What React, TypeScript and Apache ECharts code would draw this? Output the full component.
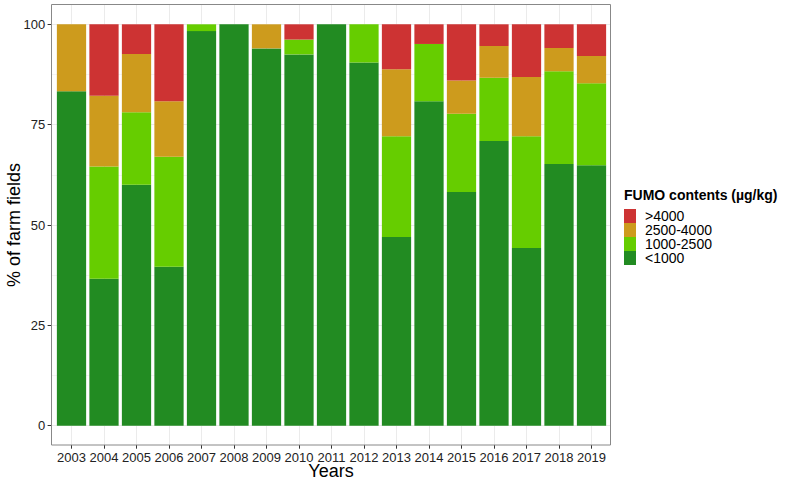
import React, { useEffect, useRef } from "react";
import * as echarts from "echarts";

const years = ["2003", "2004", "2005", "2006", "2007", "2008", "2009", "2010", "2011", "2012", "2013", "2014", "2015", "2016", "2017", "2018", "2019"];
const below1000 = [83.3, 36.6, 60.0, 39.6, 98.3, 100, 94.0, 92.5, 100, 90.5, 47.0, 80.8, 58.2, 70.9, 44.3, 65.2, 64.9];
const from1000to2500 = [0, 28.0, 18.1, 27.4, 1.7, 0, 0, 3.7, 0, 9.5, 25.1, 14.3, 19.5, 15.8, 27.8, 23.1, 20.4];
const from2500to4000 = [16.7, 17.6, 14.5, 13.8, 0, 0, 6.0, 0, 0, 0, 16.7, 0, 8.3, 7.9, 14.8, 5.8, 6.8];
const above4000 = [0, 17.8, 7.4, 19.2, 0, 0, 0, 3.8, 0, 0, 11.2, 4.9, 14.0, 5.4, 13.1, 5.9, 7.9];
const seriesNames = ["<1000", "1000-2500", "2500-4000", ">4000"];
const legendOrder = [">4000", "2500-4000", "1000-2500", "<1000"];
const yTicks = [0, 25, 50, 75, 100];

const FONT = "'Liberation Sans', Arial, Helvetica, sans-serif";
const colors = ["#228B22", "#66CD00", "#CD9B1D", "#CD3333"];

export default function App() {
  const ref = useRef<HTMLDivElement>(null);
  useEffect(() => {
    if (!ref.current) return;
    const chart = echarts.init(ref.current, undefined, { renderer: "svg" });
    const values = [below1000, from1000to2500, from2500to4000, above4000];
    const grid = "#ebebeb";
    chart.setOption({
      animation: false,
      backgroundColor: "#ffffff",
      textStyle: { fontFamily: FONT },
      title: {
        text: "FUMO contents (µg/kg)",
        left: 624,
        top: 188,
        padding: 0,
        textStyle: { fontSize: 14, fontWeight: "bold", color: "#000", fontFamily: FONT },
      },
      legend: {
        orient: "vertical",
        left: 624,
        top: 209,
        padding: 0,
        itemWidth: 12,
        itemHeight: 14,
        itemGap: 0,
        icon: "rect",
        selectedMode: false,
        data: legendOrder,
        textStyle: { fontSize: 14, lineHeight: 14, color: "#000", fontFamily: FONT, padding: [0, 0, 0, 4] },
      },
      grid: [
        { left: 55.25, top: 24.3, width: 552.5, height: 401.4 },
        { left: 71.5, top: 4.3, width: 520, height: 440.7 },
        { left: 51.3, top: 24.3, width: 559.4, height: 401.4 },
      ],
      xAxis: [
        { gridIndex: 0, type: "category", data: years, show: false },
        {
          gridIndex: 1,
          type: "category",
          data: years,
          boundaryGap: false,
          axisLine: { show: false },
          axisTick: { show: true, length: 3.7, interval: 0, lineStyle: { color: "#333", width: 1 } },
          axisLabel: { interval: 0, margin: 6.4, fontSize: 13, lineHeight: 13, color: "#222", fontFamily: FONT },
          splitLine: { show: true, interval: 0, lineStyle: { color: grid, width: 1.07 } },
        },
        { gridIndex: 2, type: "value", min: 0, max: 1, show: false },
      ],
      yAxis: [
        { gridIndex: 0, type: "value", min: 0, max: 100, show: false },
        { gridIndex: 1, type: "value", min: 0, max: 1, show: false },
        {
          gridIndex: 2,
          type: "value",
          min: yTicks[0],
          max: yTicks[yTicks.length - 1],
          interval: 25,
          axisLine: { show: false },
          axisTick: { show: true, length: 3.7, lineStyle: { color: "#333", width: 1 } },
          axisLabel: { margin: 6, fontSize: 13, color: "#222", fontFamily: FONT },
          splitLine: { show: true, lineStyle: { color: grid, width: 1.07 } },
          minorTick: { show: false, splitNumber: 2 },
          minorSplitLine: { show: true, lineStyle: { color: grid, width: 0.53 } },
        },
      ],
      series: seriesNames.map((name, i) => ({
        name,
        type: "bar",
        stack: "total",
        xAxisIndex: 0,
        yAxisIndex: 0,
        barWidth: "90%",
        data: values[i],
        itemStyle: { color: colors[i] },
        emphasis: { disabled: true },
      })),
      graphic: [
        {
          type: "rect",
          shape: { x: 51.5, y: 4.5, width: 559, height: 440.5 },
          style: { fill: "none", stroke: "#888", lineWidth: 1 },
          z: 100,
        },
        {
          type: "text",
          x: 331,
          y: 470.5,
          style: { text: "Years", fontSize: 18, fontFamily: FONT, fill: "#000", align: "center", verticalAlign: "middle" },
        },
        {
          type: "text",
          x: 14,
          y: 225,
          rotation: Math.PI / 2,
          style: { text: "% of farm fields", fontSize: 18, fontFamily: FONT, fill: "#000", align: "center", verticalAlign: "middle" },
        },
      ],
    });
    return () => chart.dispose();
  }, []);
  return <div ref={ref} style={{ position: "absolute", left: 0, top: 0, width: 800, height: 486 }} />;
}
